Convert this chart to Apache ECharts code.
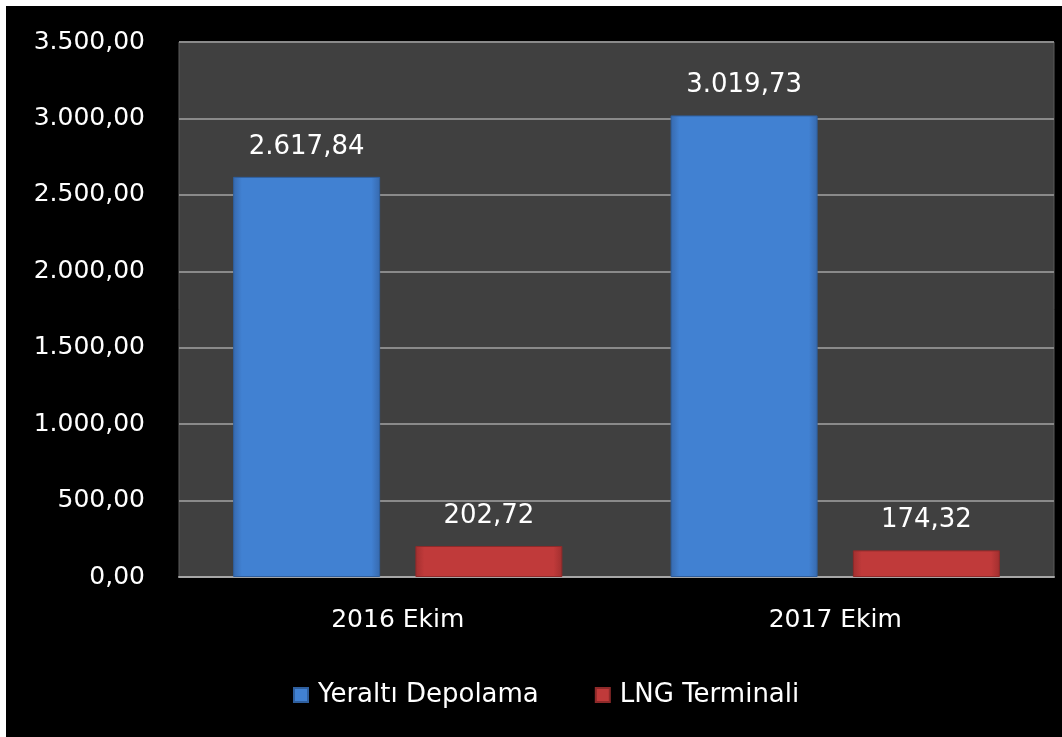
<!DOCTYPE html>
<html>
<head>
<meta charset="utf-8">
<script src="https://cdn.jsdelivr.net/npm/echarts@6/dist/echarts.min.js"></script>
<style>
html,body{margin:0;padding:0;background:#ffffff;width:1062px;height:737px;overflow:hidden;}
#chart{position:absolute;left:6px;top:6px;width:1056px;height:731px;background:#000000;}
</style>
</head>
<body>
<div id="chart"></div>
<script>
const categories = ['2016 Ekim', '2017 Ekim'];
const seriesNames = ['Yeraltı Depolama', 'LNG Terminali'];
const yeraltiValues = [2617.84, 3019.73];
const lngValues = [202.72, 174.32];
const yMin = 0, yMax = 3500, yStep = 500;

function trFormat(v) {
  const parts = Number(v).toFixed(2).split('.');
  parts[0] = parts[0].replace(/\B(?=(\d{3})+(?!\d))/g, '.');
  return parts[0] + ',' + parts[1];
}

const FONT = 'DejaVu Sans';
const chart = echarts.init(document.getElementById('chart'));
function grad(edge, mid) {
  return new echarts.graphic.LinearGradient(0, 0, 1, 0, [
    {offset: 0, color: edge}, {offset: 0.06, color: mid},
    {offset: 0.94, color: mid}, {offset: 1, color: edge}
  ]);
}
chart.setOption({
  backgroundColor: '#000000',
  animation: false,
  textStyle: {fontFamily: FONT},
  grid: {left: 173, right: 8, top: 36, bottom: 160, show: true,
         backgroundColor: '#404040', borderColor: '#5a5a5a', borderWidth: 1},
  legend: {
    data: seriesNames, left: 282, top: 671, itemWidth: 14, itemHeight: 14,
    itemGap: 56, icon: 'rect',
    textStyle: {color: '#ffffff', fontSize: 26, fontFamily: FONT, padding: [0, 0, 0, 5]}
  },
  xAxis: {
    type: 'category', data: categories,
    axisLine: {show: true, lineStyle: {color: '#a6a6a6', width: 2}},
    axisTick: {show: false},
    axisLabel: {color: '#ffffff', fontSize: 25, margin: 31, fontFamily: FONT}
  },
  yAxis: {
    type: 'value', min: yMin, max: yMax, interval: yStep,
    axisLine: {show: false}, axisTick: {show: false},
    splitLine: {lineStyle: {color: '#8a8a8a', width: 2}},
    axisLabel: {color: '#ffffff', fontSize: 25, margin: 34, fontFamily: FONT,
                formatter: v => trFormat(v)}
  },
  series: [
    {
      name: seriesNames[0], type: 'bar', data: yeraltiValues,
      barWidth: '33.6%', barGap: '24%',
      itemStyle: {color: grad('#3769ad', '#4181d2'), borderColor: '#2f5f9e', borderWidth: 1},
      label: {show: true, position: 'top', distance: 17, color: '#ffffff',
              fontSize: 26, fontFamily: FONT, formatter: p => trFormat(p.value)}
    },
    {
      name: seriesNames[1], type: 'bar', data: lngValues,
      barWidth: '33.6%',
      itemStyle: {color: grad('#a12f2f', '#c03a3a'), borderColor: '#8e2a2a', borderWidth: 1},
      label: {show: true, position: 'top', distance: 17, color: '#ffffff',
              fontSize: 26, fontFamily: FONT, formatter: p => trFormat(p.value)}
    }
  ]
});
</script>
</body>
</html>
